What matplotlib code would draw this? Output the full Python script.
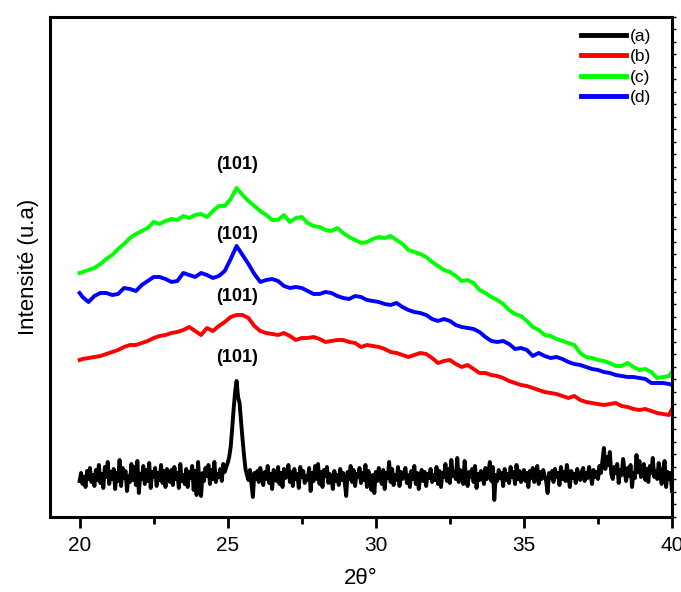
import matplotlib
matplotlib.use("Agg")
import matplotlib.pyplot as plt
from matplotlib.ticker import MultipleLocator, NullLocator

plt.rcParams['font.family'] = ['Liberation Sans', 'DejaVu Sans']

# (a) - diffractogramme noir, pas de 0.05 deg
x_a = [round(20 + 0.05 * i, 2) for i in range(401)]
y_a = [36, 44, 33, 40, 30, 46, 38, 49, 35, 42, 31, 47, 37, 52, 34, 43, 29, 50, 40, 55,
       33, 45, 38, 48, 28, 44, 36, 57, 31, 49, 39, 46, 26, 41, 35, 53, 37, 50, 32, 56,
       24, 43, 38, 51, 33, 47, 36, 54, 29, 45, 40, 49, 31, 44, 37, 52, 34, 46, 30, 48,
       41, 35, 47, 32, 50, 38, 44, 29, 53, 36, 42, 33, 48, 30, 45, 39, 51, 27, 46, 22,
       55, 30, 21, 44, 36, 49, 41, 52, 33, 47, 38, 55, 35, 43, 40, 48, 36, 53, 45, 50,
       54, 60, 70, 88, 108, 125, 136, 120, 114, 96, 78, 62, 48, 42, 37, 47, 33, 20, 44, 38,
       46, 35, 49, 40, 32, 45, 38, 51, 34, 43, 28, 47, 41, 36, 50, 33, 44, 30, 48, 39,
       42, 52, 35, 45, 31, 48, 38, 43, 29, 50, 40, 46, 34, 41, 37, 49, 26, 44, 36, 51,
       38, 53, 33, 45, 30, 47, 41, 50, 34, 43, 39, 28, 46, 36, 42, 32, 48, 37, 44, 35,
       21, 45, 38, 51, 35, 47, 31, 43, 40, 49, 34, 44, 37, 52, 30, 46, 39, 27, 42, 24,
       45, 36, 49, 40, 33, 47, 28, 44, 39, 55, 35, 48, 32, 42, 37, 50, 31, 45, 38, 43,
       49, 34, 42, 30, 46, 38, 51, 33, 44, 28, 40, 47, 36, 45, 31, 43, 39, 48, 35, 42,
       37, 50, 33, 46, 30, 44, 40, 53, 36, 48, 34, 57, 41, 45, 38, 59, 35, 47, 42, 33,
       56, 38, 31, 45, 40, 48, 35, 51, 29, 43, 37, 46, 41, 33, 49, 38, 44, 55, 36, 50,
       17, 42, 36, 47, 39, 44, 31, 48, 37, 43, 34, 50, 40, 45, 33, 52, 38, 46, 35, 42,
       47, 36, 44, 30, 46, 39, 49, 35, 42, 51, 33, 45, 38, 47, 41, 36, 24, 44, 39, 46,
       35, 48, 40, 44, 32, 50, 38, 45, 36, 52, 41, 30, 46, 39, 43, 34, 48, 40, 37, 45,
       49, 36, 44, 39, 50, 42, 33, 47, 40, 45, 38, 51, 44, 56, 69, 48, 60, 52, 65, 43,
       38, 50, 44, 53, 34, 47, 42, 58, 45, 36, 49, 41, 52, 30, 44, 39, 62, 45, 56, 40,
       42, 53, 37, 48, 35, 51, 44, 59, 40, 46, 38, 54, 43, 33, 47, 56, 30, 45, 38, 44,
       26]

# grille commune des courbes (b), (c), (d) : 20.0, 20.1, 20.3 ... 39.9, 40.0
x_bcd = [20.0] + [round(20.1 + 0.2 * i, 1) for i in range(100)] + [40.0]

y_b = [157,
       158, 159, 160, 161, 163, 165, 167, 170, 172, 172,
       174, 176, 179, 181, 182, 184, 185, 187, 190, 186,
       182, 189, 186, 191, 195, 200, 202, 202, 199, 191,
       186, 184, 183, 182, 184, 181, 177, 179, 179, 180,
       178, 175, 176, 177, 177, 175, 174, 170, 172, 171,
       170, 168, 165, 164, 162, 160, 162, 164, 163, 159,
       154, 156, 157, 153, 150, 152, 148, 144, 144, 142,
       141, 139, 136, 134, 132, 131, 129, 127, 125, 124,
       123, 121, 119, 121, 117, 115, 114, 113, 112, 113,
       114, 111, 110, 108, 107, 108, 106, 104, 103, 102,
       108]

y_c = [244,
       245, 247, 249, 253, 258, 262, 268, 273, 279, 283,
       286, 289, 295, 293, 296, 298, 297, 301, 299, 302,
       303, 300, 306, 311, 311, 318, 329, 322, 316, 311,
       306, 302, 297, 297, 302, 295, 299, 300, 294, 291,
       290, 287, 286, 289, 284, 280, 277, 274, 275, 278,
       280, 279, 281, 277, 273, 267, 265, 263, 260, 255,
       251, 247, 245, 241, 236, 237, 234, 227, 224, 220,
       217, 213, 207, 203, 201, 196, 190, 187, 182, 181,
       178, 176, 174, 172, 164, 160, 159, 157, 156, 154,
       151, 151, 154, 150, 147, 148, 145, 139, 140, 141,
       145]

y_d = [224,
       220, 215, 221, 224, 224, 222, 223, 229, 228, 226,
       232, 236, 240, 240, 238, 235, 236, 244, 242, 240,
       244, 242, 239, 241, 246, 258, 271, 262, 253, 243,
       235, 237, 238, 236, 231, 229, 230, 229, 226, 223,
       223, 225, 224, 221, 219, 218, 221, 220, 217, 216,
       215, 213, 212, 214, 210, 207, 205, 204, 202, 198,
       196, 198, 196, 192, 190, 189, 188, 185, 180, 176,
       175, 176, 173, 168, 169, 167, 161, 164, 161, 159,
       160, 158, 155, 153, 152, 150, 148, 147, 145, 144,
       142, 141, 140, 140, 139, 138, 134, 134, 134, 133,
       132]

labels = ['(a)', '(b)', '(c)', '(d)']
couleurs = ['black', '#ff0000', '#00ff00', '#0000ff']

# positions des annotations (101)
pic_x = 25.3
pic_y = [159, 220, 282, 352]

fig = plt.figure(figsize=(6.81, 5.92), dpi=100)
ax = fig.add_axes([0.0734, 0.1267, 0.9134, 0.8446])

series = [(x_a, y_a), (x_bcd, y_b), (x_bcd, y_c), (x_bcd, y_d)]
for (xs, ys), lab, col in zip(series, labels, couleurs):
    ax.plot(xs, ys, color=col, lw=2.8, label=lab, solid_joinstyle='round')

for yy in pic_y:
    ax.text(pic_x, yy, '(101)', ha='center', va='center', fontsize=13, fontweight='bold')

ax.set_xlim(19, 40)
ax.set_ylim(0, 500)
ax.xaxis.set_major_locator(MultipleLocator(5))
ax.xaxis.set_minor_locator(MultipleLocator(2.5))
ax.yaxis.set_major_locator(MultipleLocator(12.5))
ax.yaxis.set_minor_locator(NullLocator())

ax.tick_params(axis='x', which='major', direction='out', length=8, width=2, labelsize=15, pad=6)
ax.tick_params(axis='x', which='minor', direction='out', length=5, width=2)
ax.tick_params(axis='y', which='both', left=False, labelleft=False,
               right=True, direction='out', length=3, width=1)

for s in ax.spines.values():
    s.set_linewidth(2.2)

ax.set_xlabel('2θ°', fontsize=16, labelpad=9)
ax.set_ylabel('Intensité (u.a)', fontsize=16, labelpad=8)

leg = ax.legend(loc='upper right', bbox_to_anchor=(0.9775, 0.99), borderaxespad=0,
                frameon=False, fontsize=12.5, handlelength=2.6,
                handletextpad=0.2, labelspacing=0.3)
for ligne in leg.get_lines():
    ligne.set_linewidth(3.5)

plt.savefig('out.png', dpi=100)
